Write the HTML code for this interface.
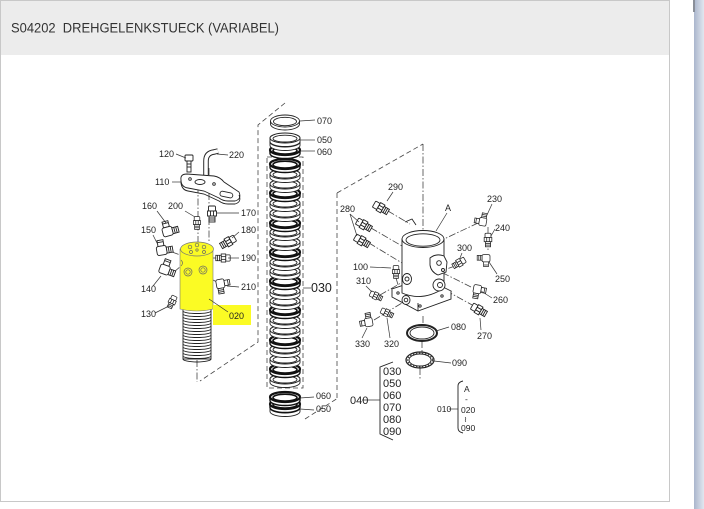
<!DOCTYPE html>
<html><head><meta charset="utf-8"><style>
html,body{margin:0;padding:0;background:#fff;}
svg{display:block;}
text{font-family:"Liberation Sans",Arial,sans-serif;fill:#222;}
.s{stroke:#222;stroke-width:0.9;fill:#fff;}
.n{stroke:#222;stroke-width:0.9;fill:none;}
.d{stroke:#444;stroke-width:0.8;fill:none;stroke-dasharray:5,3;}
.dd{stroke:#444;stroke-width:0.8;fill:none;stroke-dasharray:7,2,1.5,2;}
.l{stroke:#333;stroke-width:0.7;fill:none;}
.t{font-size:9px;}
</style></head><body>
<svg width="704" height="509" viewBox="0 0 704 509" xmlns="http://www.w3.org/2000/svg">
<defs>
<linearGradient id="sb" x1="0" x2="1" y1="0" y2="0">
<stop offset="0" stop-color="#aab6cc"/><stop offset="1" stop-color="#e2e7f0"/>
</linearGradient>
<g id="ring">
<path d="M-15,0 v3.5 a15,5 0 0 0 30,0 v-3.5" fill="#fff" stroke="#222" stroke-width="0.9"/>
<ellipse rx="15" ry="5" fill="#fff" stroke="#222" stroke-width="1"/>
<ellipse cy="0.6" rx="12" ry="3.4" fill="none" stroke="#222" stroke-width="0.9"/>
</g>
<g id="ringk">
<path d="M-15,0 v3.5 a15,5 0 0 0 30,0 v-3.5" fill="#fff" stroke="#111" stroke-width="1.4"/>
<ellipse rx="15" ry="5" fill="#fff" stroke="#111" stroke-width="2.2"/>
<ellipse cy="0.6" rx="12" ry="3.4" fill="none" stroke="#111" stroke-width="1.6"/>
</g>
<g id="fitA">
<rect x="-3.5" y="-8" width="7" height="5" rx="1" class="s"/>
<rect x="-4.5" y="-3" width="9" height="5" class="s"/>
<line x1="-1.5" y1="-3" x2="-1.5" y2="2" class="n"/><line x1="1.5" y1="-3" x2="1.5" y2="2" class="n"/>
<rect x="-3" y="2" width="6" height="6" class="s"/>
<line x1="-3" y1="4" x2="3" y2="4" class="n"/><line x1="-3" y1="6" x2="3" y2="6" class="n"/>
</g>
<g id="elbow">
<rect x="-3" y="-12" width="6" height="6" class="s"/>
<line x1="-3" y1="-10" x2="3" y2="-10" class="n"/>
<rect x="-5" y="-6" width="10" height="9" rx="2" class="s"/>
<rect x="5" y="-4" width="6" height="6" class="s"/>
<line x1="7" y1="-4" x2="7" y2="2" class="n"/><line x1="9" y1="-4" x2="9" y2="2" class="n"/>
</g>
</defs>

<!-- page frame -->
<rect x="0" y="0" width="704" height="509" fill="#fff"/>
<rect x="0" y="0" width="670" height="55" fill="#ececec"/>
<line x1="0" y1="0.5" x2="670" y2="0.5" stroke="#c8c8c8"/>
<line x1="0.5" y1="0" x2="0.5" y2="502" stroke="#c8c8c8"/>
<line x1="669.5" y1="0" x2="669.5" y2="502" stroke="#c8c8c8"/>
<line x1="0" y1="501.5" x2="670" y2="501.5" stroke="#c8c8c8"/>
<rect x="694" y="0" width="10" height="509" fill="url(#sb)"/>
<rect x="693" y="0" width="2" height="12" fill="#8a8f99"/>
<text x="11" y="32.5" font-size="13.5" style="fill:#333;white-space:pre" xml:space="preserve" textLength="268" lengthAdjust="spacingAndGlyphs">S04202  DREHGELENKSTUECK (VARIABEL)</text>

<!-- ===== LEFT ASSEMBLY ===== -->
<path d="M285,103 L258,125 L258,342 L200,381" class="d"/>
<line x1="197" y1="360" x2="197" y2="382" class="dd"/>
<line x1="209" y1="168" x2="209" y2="243" class="dd"/>
<line x1="198" y1="186" x2="198" y2="243" class="dd"/>
<line x1="172" y1="252" x2="183" y2="256" class="dd"/>
<line x1="174" y1="272" x2="181" y2="266" class="dd"/>
<line x1="213" y1="258" x2="220" y2="258" class="dd"/>
<line x1="213" y1="280" x2="217" y2="282" class="dd"/>

<!-- 120 bolt -->
<rect x="185" y="155" width="8" height="6" rx="1" class="s"/>
<rect x="187" y="161" width="4" height="11" class="s"/>
<line x1="187" y1="164" x2="191" y2="164" class="n"/><line x1="187" y1="167" x2="191" y2="167" class="n"/>
<!-- 220 pipe -->
<path d="M206,175 L206,161 Q206,153 214,152 L218,151" fill="none" stroke="#222" stroke-width="5.5"/>
<path d="M206,175 L206,161 Q206,153 214,152 L218,151" fill="none" stroke="#fff" stroke-width="3.6"/>
<!-- 110 plate -->
<path d="M181,180 Q180,174 187,174 L214,176 Q220,177 224,182 L239,192 Q242,199 235,201 L228,201 Q223,201 219,198 L204,191 L188,188 Q181,187 181,180 Z" class="s"/>
<path d="M181,180 L181,183 Q182,190 188,191 L204,194 L219,201 Q223,204 228,204 L235,204 Q242,202 239,195" class="n"/>
<ellipse cx="200" cy="182" rx="5" ry="2.5" class="s"/>
<rect x="220" y="192" width="13" height="5" rx="2.5" class="s" transform="rotate(12 226 194)"/>
<circle cx="190" cy="179" r="1.3" class="s"/>
<circle cx="214" cy="184" r="1.3" class="s"/>

<!-- fittings left -->
<use href="#fitA" transform="translate(197,223) scale(0.8)"/>
<use href="#fitA" transform="translate(212,214)"/>
<use href="#elbow" transform="translate(168,233) rotate(-15)"/>
<use href="#elbow" transform="translate(162,252) rotate(-10)"/>
<use href="#fitA" transform="translate(228,242) rotate(60)"/>
<use href="#fitA" transform="translate(223,258) rotate(90) scale(0.9)"/>
<use href="#elbow" transform="translate(164,271) rotate(20)"/>
<use href="#elbow" transform="translate(219,284) rotate(80) scale(0.9)"/>
<use href="#fitA" transform="translate(172,302) rotate(25) scale(0.8)"/>

<!-- grooved lower part -->
<rect x="183" y="305" width="28" height="54" class="s"/>
<g class="n" stroke-width="1.1">
<path d="M183,308 a14,2.5 0 0 0 28,0"/><path d="M183,311 a14,2.5 0 0 0 28,0"/><path d="M183,314 a14,2.5 0 0 0 28,0"/>
<path d="M183,317 a14,2.5 0 0 0 28,0"/><path d="M183,320 a14,2.5 0 0 0 28,0"/><path d="M183,323 a14,2.5 0 0 0 28,0"/>
<path d="M183,326 a14,2.5 0 0 0 28,0"/><path d="M183,329 a14,2.5 0 0 0 28,0"/><path d="M183,332 a14,2.5 0 0 0 28,0"/>
<path d="M183,335 a14,2.5 0 0 0 28,0"/><path d="M183,338 a14,2.5 0 0 0 28,0"/><path d="M183,341 a14,2.5 0 0 0 28,0"/>
<path d="M183,344 a14,2.5 0 0 0 28,0"/><path d="M183,347 a14,2.5 0 0 0 28,0"/><path d="M183,350 a14,2.5 0 0 0 28,0"/>
<path d="M183,353 a14,2.5 0 0 0 28,0"/><path d="M183,356 a14,2.5 0 0 0 28,0"/><path d="M183,359 a14,3 0 0 0 28,0"/>
</g>
<!-- yellow cylinder -->
<path d="M180,249 L180,309 Q197,313 213,309 L213,249 Z" fill="#fbfb24" stroke="#777" stroke-width="0.6"/>
<ellipse cx="197" cy="249" rx="16.5" ry="7" fill="#fbfb24" stroke="#777" stroke-width="0.7"/>
<g fill="none" stroke="#666" stroke-width="0.7">
<circle cx="190" cy="247" r="1.8"/><circle cx="197" cy="245" r="1.8"/><circle cx="204" cy="247" r="1.8"/>
<circle cx="197" cy="250" r="1.2"/><circle cx="191" cy="252" r="1.5"/><circle cx="204" cy="252" r="1.5"/>
<circle cx="188" cy="272" r="4"/><circle cx="188" cy="272" r="2.2"/>
<circle cx="203" cy="270" r="4"/><circle cx="203" cy="270" r="2.2"/>
<path d="M181,260 q3,3 0,6"/>
</g>
<rect x="213" y="305" width="38" height="20" fill="#fbfb24"/>
<line x1="209" y1="299" x2="228" y2="312" class="l"/>
<text x="229" y="319" class="t">020</text>

<!-- left labels & leaders -->
<text x="159" y="157" class="t">120</text><line x1="176" y1="154" x2="186" y2="158" class="l"/>
<text x="229" y="158" class="t">220</text><line x1="217" y1="154" x2="228" y2="155" class="l"/>
<text x="155" y="185" class="t">110</text><line x1="172" y1="182" x2="181" y2="182" class="l"/>
<text x="142" y="209" class="t">160</text><line x1="157" y1="211" x2="166" y2="223" class="l"/>
<text x="168" y="209" class="t">200</text><line x1="185" y1="211" x2="195" y2="217" class="l"/>
<text x="241" y="216" class="t">170</text><line x1="217" y1="213" x2="239" y2="213" class="l"/>
<text x="141" y="233" class="t">150</text><line x1="153" y1="235" x2="158" y2="245" class="l"/>
<text x="241" y="233" class="t">180</text><line x1="232" y1="238" x2="239" y2="232" class="l"/>
<text x="241" y="261" class="t">190</text><line x1="228" y1="258" x2="239" y2="258" class="l"/>
<text x="141" y="292" class="t">140</text><line x1="153" y1="286" x2="161" y2="276" class="l"/>
<text x="241" y="290" class="t">210</text><line x1="227" y1="286" x2="239" y2="287" class="l"/>
<text x="141" y="317" class="t">130</text><line x1="155" y1="313" x2="169" y2="306" class="l"/>

<!-- ===== SPRING STACK ===== -->
<rect x="267" y="157" width="36" height="231" class="d"/>
<use href="#ring" x="285" y="379"/>
<use href="#ringk" x="285" y="369"/>
<use href="#ring" x="285" y="359"/>
<use href="#ring" x="285" y="349"/>
<use href="#ringk" x="285" y="340"/>
<use href="#ring" x="285" y="330"/>
<use href="#ring" x="285" y="320"/>
<use href="#ringk" x="285" y="310"/>
<use href="#ring" x="285" y="301"/>
<use href="#ring" x="285" y="291"/>
<use href="#ringk" x="285" y="281"/>
<use href="#ring" x="285" y="271"/>
<use href="#ring" x="285" y="262"/>
<use href="#ringk" x="285" y="252"/>
<use href="#ring" x="285" y="242"/>
<use href="#ring" x="285" y="232"/>
<use href="#ringk" x="285" y="223"/>
<use href="#ring" x="285" y="213"/>
<use href="#ring" x="285" y="203"/>
<use href="#ringk" x="285" y="193"/>
<use href="#ring" x="285" y="184"/>
<use href="#ring" x="285" y="174"/>
<use href="#ringk" x="285" y="164"/>
<!-- top rings -->
<use href="#ringk" x="285" y="150"/>
<use href="#ring" x="285" y="142"/>
<use href="#ring" x="285" y="138"/>
<ellipse cx="285" cy="121" rx="14.5" ry="6" class="s" stroke-width="1.2"/>
<path d="M270.5,121 v3 a14.5,6 0 0 0 29,0 v-3" class="n"/>
<ellipse cx="285" cy="121.5" rx="11.5" ry="4.2" class="n"/>
<!-- bottom rings -->
<use href="#ring" x="285" y="408"/>
<use href="#ringk" x="285" y="404"/>
<use href="#ringk" x="285" y="397"/>
<path d="M305,419 L338,398" class="d"/>
<!-- spring labels -->
<line x1="300" y1="121" x2="315" y2="120" class="l"/><text x="317" y="124" class="t">070</text>
<line x1="300" y1="140" x2="315" y2="140" class="l"/><text x="317" y="143" class="t">050</text>
<line x1="300" y1="151" x2="315" y2="151" class="l"/><text x="317" y="155" class="t">060</text>
<line x1="303" y1="288" x2="311" y2="288" class="l"/><text x="311" y="292" font-size="12.5">030</text>
<line x1="300" y1="398" x2="314" y2="397" class="l"/><text x="316" y="399" class="t">060</text>
<line x1="300" y1="409" x2="314" y2="410" class="l"/><text x="316" y="412" class="t">050</text>

<!-- ===== RIGHT ASSEMBLY ===== -->
<path d="M337,193 L423,144" class="d"/>
<line x1="337" y1="193" x2="337" y2="398" class="d"/>
<line x1="423" y1="144" x2="423" y2="232" class="dd"/>
<line x1="423" y1="316" x2="423" y2="326" class="dd"/>
<line x1="422" y1="341" x2="422" y2="353" class="dd"/>
<line x1="420" y1="368" x2="420" y2="380" class="dd"/>
<line x1="388" y1="211" x2="410" y2="224" class="dd"/>
<path d="M405,222 L412,219 L416,225" class="n"/>
<line x1="371" y1="228" x2="402" y2="246" class="dd"/>
<line x1="369" y1="243" x2="402" y2="263" class="dd"/>
<line x1="478" y1="223" x2="444" y2="239" class="dd"/>
<line x1="488" y1="227" x2="488" y2="251" class="dd"/>
<line x1="455" y1="266" x2="444" y2="270" class="dd"/>
<line x1="471" y1="287" x2="443" y2="273" class="dd"/>
<line x1="474" y1="306" x2="443" y2="289" class="dd"/>
<line x1="380" y1="295" x2="401" y2="283" class="dd"/>
<line x1="374" y1="320" x2="402" y2="303" class="dd"/>
<line x1="396" y1="278" x2="399" y2="288" class="dd"/>

<!-- housing -->
<path d="M392,289 L418,303 L451,291 L425,278 Z" class="s"/>
<path d="M392,289 L392,297 L418,311 L451,299 L451,291" class="s"/>
<line x1="418" y1="303" x2="418" y2="311" class="n"/>
<path d="M402,239 L402,293 Q423,302 444,288 L444,239 Z" class="s"/>
<ellipse cx="423" cy="239" rx="21" ry="8.5" class="s"/>
<ellipse cx="423" cy="240" rx="17" ry="6.2" class="n"/>
<!-- bosses -->
<path d="M430,258 Q436,253 444,256 L447,262 L446,272 L438,275 Q431,272 430,265 Z" class="s"/>
<circle cx="439" cy="263" r="2.3" class="n"/><circle cx="443" cy="270" r="1.5" class="n"/>
<ellipse cx="439" cy="285" rx="6" ry="6" class="s"/><ellipse cx="440" cy="285" rx="2.5" ry="2.5" class="n"/>
<ellipse cx="407" cy="279" rx="4.5" ry="5.5" class="s"/><circle cx="407" cy="279" r="2" class="n"/>
<ellipse cx="406" cy="300" rx="4" ry="4.5" class="s"/><circle cx="406" cy="300" r="1.8" class="n"/>
<circle cx="398" cy="293" r="1.2" class="n"/><circle cx="442" cy="296" r="1.2" class="n"/><circle cx="420" cy="306" r="1.2" class="n"/>

<!-- rings 080 / 090 -->
<ellipse cx="422" cy="333" rx="15" ry="8" fill="none" stroke="#222" stroke-width="2"/>
<ellipse cx="422" cy="333" rx="12" ry="6" class="n"/>
<ellipse cx="420" cy="360" rx="14" ry="8" fill="none" stroke="#222" stroke-width="1.2"/>
<ellipse cx="420" cy="360" rx="12.5" ry="6.8" fill="none" stroke="#444" stroke-width="1.4" stroke-dasharray="1.5,1.5"/>
<ellipse cx="420" cy="360" rx="11" ry="6" class="n"/>

<!-- right fittings -->
<use href="#fitA" transform="translate(381,208) rotate(-60)"/>
<use href="#fitA" transform="translate(364,225) rotate(-60)"/>
<use href="#fitA" transform="translate(362,241) rotate(-60)"/>
<use href="#elbow" transform="translate(484,222) rotate(-80) scale(0.8)"/>
<use href="#fitA" transform="translate(488,240) scale(0.85)"/>
<use href="#elbow" transform="translate(486,257) rotate(180) scale(0.8)"/>
<use href="#fitA" transform="translate(459,263) rotate(60) scale(0.85)"/>
<use href="#fitA" transform="translate(396,272) scale(0.8)"/>
<use href="#fitA" transform="translate(376,296) rotate(-65) scale(0.8)"/>
<use href="#elbow" transform="translate(476,289) rotate(100) scale(0.85)"/>
<use href="#fitA" transform="translate(479,310) rotate(-60)"/>
<use href="#elbow" transform="translate(370,322) rotate(-100) scale(0.85)"/>
<use href="#fitA" transform="translate(387,313) rotate(-65) scale(0.8)"/>

<!-- right labels -->
<text x="388" y="190" class="t">290</text><line x1="393" y1="192" x2="387" y2="201" class="l"/>
<text x="340" y="212" class="t">280</text><line x1="350" y1="214" x2="359" y2="222" class="l"/><line x1="350" y1="214" x2="357" y2="236" class="l"/>
<text x="445" y="211" class="t">A</text><line x1="447" y1="213" x2="436" y2="231" class="l"/>
<text x="487" y="202" class="t">230</text><line x1="492" y1="204" x2="487" y2="215" class="l"/>
<text x="495" y="231" class="t">240</text><line x1="495" y1="229" x2="491" y2="236" class="l"/>
<text x="457" y="251" class="t">300</text><line x1="462" y1="253" x2="460" y2="258" class="l"/>
<text x="495" y="282" class="t">250</text><line x1="497" y1="274" x2="489" y2="262" class="l"/>
<text x="353" y="270" class="t">100</text><line x1="370" y1="267" x2="391" y2="268" class="l"/>
<text x="356" y="284" class="t">310</text><line x1="366" y1="286" x2="372" y2="292" class="l"/>
<text x="493" y="303" class="t">260</text><line x1="492" y1="298" x2="481" y2="291" class="l"/>
<text x="477" y="339" class="t">270</text><line x1="481" y1="330" x2="480" y2="318" class="l"/>
<text x="451" y="330" class="t">080</text><line x1="449" y1="327" x2="436" y2="331" class="l"/>
<text x="452" y="366" class="t">090</text><line x1="451" y1="363" x2="434" y2="361" class="l"/>
<text x="355" y="347" class="t">330</text><line x1="362" y1="338" x2="367" y2="328" class="l"/>
<text x="384" y="347" class="t">320</text><line x1="390" y1="338" x2="387" y2="318" class="l"/>

<!-- legend 040 -->
<path d="M393,362 L380,367 L380,434 L393,440" class="n"/>
<line x1="362" y1="400" x2="380" y2="400" class="l"/>
<text x="350" y="404" font-size="11">040</text>
<text x="383" y="375" font-size="11">030</text>
<text x="383" y="387" font-size="11">050</text>
<text x="383" y="399" font-size="11">060</text>
<text x="383" y="411" font-size="11">070</text>
<text x="383" y="423" font-size="11">080</text>
<text x="383" y="435" font-size="11">090</text>
<!-- legend 010 -->
<path d="M463,381 Q458,382 458,386 L458,428 Q458,432 463,433" class="n"/>
<line x1="449" y1="409" x2="458" y2="409" class="l"/>
<text x="437" y="412" font-size="8.5">010</text>
<text x="464" y="392" font-size="8.5">A</text>
<text x="465" y="402" font-size="8.5">-</text>
<text x="461" y="413" font-size="8.5">020</text>
<text x="464" y="422" font-size="8">≀</text>
<text x="461" y="431" font-size="8.5">090</text>
</svg>
</body></html>
